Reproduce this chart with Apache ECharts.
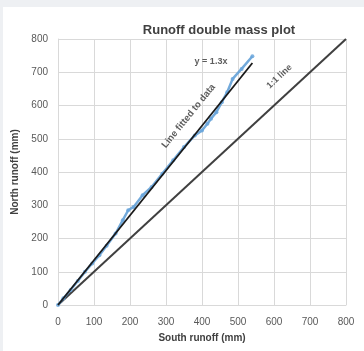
<!DOCTYPE html>
<html><head><meta charset="utf-8">
<script src="https://cdn.jsdelivr.net/npm/echarts@6/dist/echarts.min.js"></script>
<style>html,body{margin:0;padding:0;background:#eef0f3}#c{width:364px;height:351px}</style>
</head><body><div id="c"></div>
<script>
const southRunoff = [0, 15, 35, 55, 75, 95, 115, 135, 160, 180, 195, 210, 235, 260, 290, 320, 350, 380, 400, 415, 425, 440, 455, 470, 485, 510, 540];
const northRunoff = [0, 20, 45, 72, 100, 125, 150, 178, 215, 255, 285, 295, 330, 355, 395, 435, 475, 510, 525, 545, 560, 580, 610, 640, 680, 710, 748];
const fitX = [0, 540];
const fitY = [0, 728];
const oneToOneX = [0, 800];
const oneToOneY = [0, 800];
const axisTicks = [0, 100, 200, 300, 400, 500, 600, 700, 800];
const labels = [
  {text: 'y = 1.3x', x: 425, y: 731, rotate: 0},
  {text: 'Line fitted to data', x: 363, y: 568, rotate: 51},
  {text: '1:1 line', x: 615, y: 687, rotate: 43}
];

const chart = echarts.init(document.getElementById('c'));
const pairs = (xs, ys) => xs.map((v, i) => [v, ys[i]]);
const axisCommon = {
  type: 'value', min: axisTicks[0], max: axisTicks[axisTicks.length - 1], interval: 100,
  axisLine: {show: true, lineStyle: {color: '#d9d9d9'}},
  axisTick: {show: false},
  splitLine: {show: true, lineStyle: {color: '#d9d9d9', width: 1}},
  axisLabel: {color: '#595959', fontSize: 10, fontFamily: 'Liberation Sans'},
  nameLocation: 'middle',
  nameTextStyle: {color: '#404040', fontSize: 10, fontWeight: 'bold', fontFamily: 'Liberation Sans'}
};
chart.setOption({
  backgroundColor: '#eef0f3',
  animation: false,
  graphic: [{type: 'rect', left: 3, top: 7, z: -10, shape: {width: 361, height: 344}, style: {fill: '#ffffff'}}],
  title: {text: 'Runoff double mass plot', left: 214, top: 19, textAlign: 'center',
    textStyle: {fontSize: 13, fontWeight: 'bold', color: '#404040', fontFamily: 'Liberation Sans'}},
  grid: {left: 58, right: 18, top: 39, bottom: 46},
  xAxis: Object.assign({}, axisCommon, {name: 'South runoff (mm)', nameGap: 28,
    axisLabel: Object.assign({}, axisCommon.axisLabel, {margin: 12})}),
  yAxis: Object.assign({}, axisCommon, {name: 'North runoff (mm)', nameGap: 38,
    axisLabel: Object.assign({}, axisCommon.axisLabel, {margin: 10})}),
  series: [
    {type: 'line', data: pairs(oneToOneX, oneToOneY), symbol: 'none',
      lineStyle: {color: '#404040', width: 2}, z: 2},
    {type: 'line', data: pairs(southRunoff, northRunoff), symbol: 'circle', symbolSize: 4,
      itemStyle: {color: '#6aa6dc', opacity: 0.85}, lineStyle: {color: '#5b9bd5', width: 2.5, opacity: 0.85}, z: 3},
    {type: 'line', data: pairs(fitX, fitY), symbol: 'none',
      lineStyle: {color: '#1a1a1a', width: 1.8}, z: 4},
    {type: 'scatter', symbolSize: 0, z: 5,
      data: labels.map(l => ({value: [l.x, l.y], label: {show: true, formatter: l.text, rotate: l.rotate,
        position: 'inside', color: '#333333', fontSize: l.rotate === 51 ? 9.5 : 9, fontWeight: 'bold', fontFamily: 'Liberation Sans'}}))}
  ]
});
</script></body></html>
